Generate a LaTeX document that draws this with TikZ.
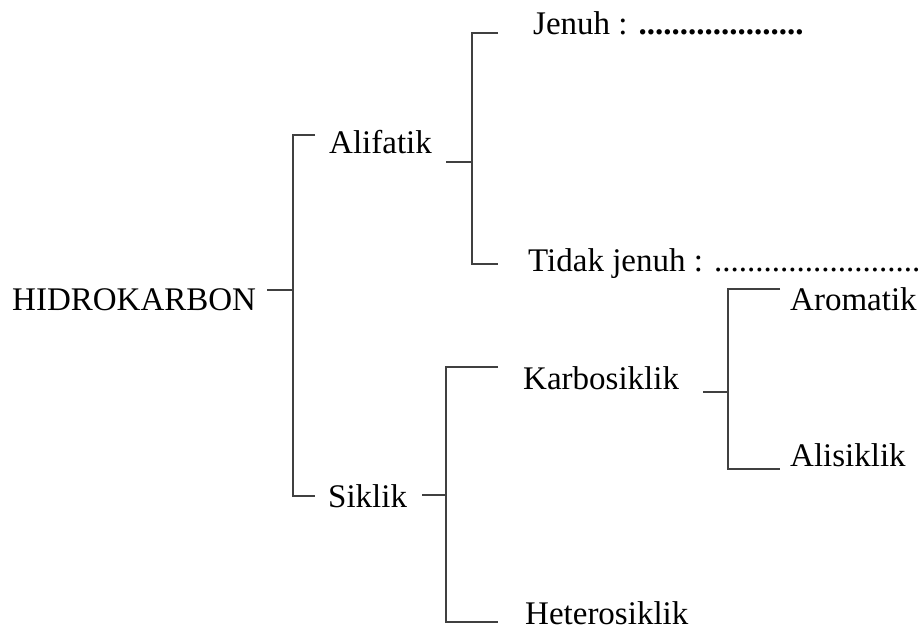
\documentclass[tikz,border=0pt]{standalone}
\usepackage{fontspec}
\setmainfont{Liberation Serif}
\begin{document}
\begin{tikzpicture}[x=1pt,y=-1pt,
  lbl/.style={anchor=base west,inner sep=0pt,font=\fontsize{33}{36}\selectfont},
  brk/.style={draw=black!75,line width=2pt}]
\useasboundingbox (0,0) rectangle (922,633);

% labels
\node[lbl] (hidro) at (12,310) {HIDROKARBON};
\node[lbl] (alif)  at (329,153) {Alifatik};
\node[lbl] (sik)   at (328,507) {Siklik};
\node[lbl] (jen)   at (533,34)  {Jenuh : \textbf{....................}};
\node[lbl] (tjen)  at (528,271) {Tidak jenuh : .........................};
\node[lbl] (karb)  at (523,389) {Karbosiklik};
\node[lbl] (het)   at (525,624) {Heterosiklik};
\node[lbl] (arom)  at (790,310) {Aromatik};
\node[lbl] (alis)  at (790,466) {Alisiklik};

% bracket points
\coordinate (h0) at (267,290); \coordinate (h1) at (293,290);
\coordinate (ht) at (293,135); \coordinate (hb) at (293,496);
\coordinate (a0) at (446,162); \coordinate (a1) at (472,162);
\coordinate (at) at (472,33);  \coordinate (ab) at (472,264);
\coordinate (s0) at (422,495); \coordinate (s1) at (446,495);
\coordinate (st) at (446,367); \coordinate (sb) at (446,622);
\coordinate (k0) at (703,392); \coordinate (k1) at (728,392);
\coordinate (kt) at (728,289); \coordinate (kb) at (728,469);

% brackets
\draw[brk] (h0) -- (h1);
\draw[brk] (315,135) -- (ht) -- (hb) -- (315,496);
\draw[brk] (a0) -- (a1);
\draw[brk] (498,33) -- (at) -- (ab) -- (498,264);
\draw[brk] (s0) -- (s1);
\draw[brk] (498,367) -- (st) -- (sb) -- (498,622);
\draw[brk] (k0) -- (k1);
\draw[brk] (780,289) -- (kt) -- (kb) -- (780,469);
\end{tikzpicture}
\end{document}
